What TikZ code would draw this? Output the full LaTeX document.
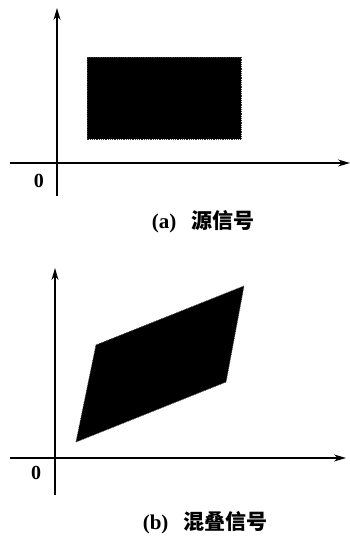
\documentclass[tikz,border=0pt]{standalone}
\usepackage{fontspec}
\setmainfont{Liberation Serif}
\newfontfamily\cjk{Noto Sans CJK SC}
\usetikzlibrary{arrows.meta}
\begin{document}
\begin{tikzpicture}[x=1pt,y=1pt,
  axis/.style={line width=1.6pt,-{Stealth[length=12pt,width=7pt]}},
  region/.style={fill=black,draw=black!80,line width=0.8pt,densely dotted},
  zerolab/.style={font=\fontsize{20}{20}\selectfont\bfseries},
  caption/.style={font=\fontsize{21}{21}\selectfont\bfseries}]
\useasboundingbox (0,0) rectangle (350,539);
% panel (a)
\coordinate (ax0) at (10,376);
\coordinate (ax1) at (350,376);
\coordinate (ay0) at (57,343);
\coordinate (ay1) at (57,531);
\draw[axis] (ax0) -- (ax1);
\draw[axis] (ay0) -- (ay1);
\draw[region] (87,400) rectangle (241,482);
\node[zerolab] (za) at (39,358) {0};
\node[caption] (ca) at (203,317) {(a)\hspace{0.7em}{\cjk 源信号}};
% panel (b)
\coordinate (bx0) at (10,81);
\coordinate (bx1) at (346,81);
\coordinate (by0) at (55,44);
\coordinate (by1) at (55,271);
\draw[axis] (bx0) -- (bx1);
\draw[axis] (by0) -- (by1);
\draw[region] (76,97) -- (96,194) -- (244,253) -- (226,157) -- cycle;
\node[zerolab] (zb) at (36,66) {0};
\node[caption] (cb) at (205,16) {(b)\hspace{0.7em}{\cjk 混叠信号}};
\end{tikzpicture}
\end{document}
